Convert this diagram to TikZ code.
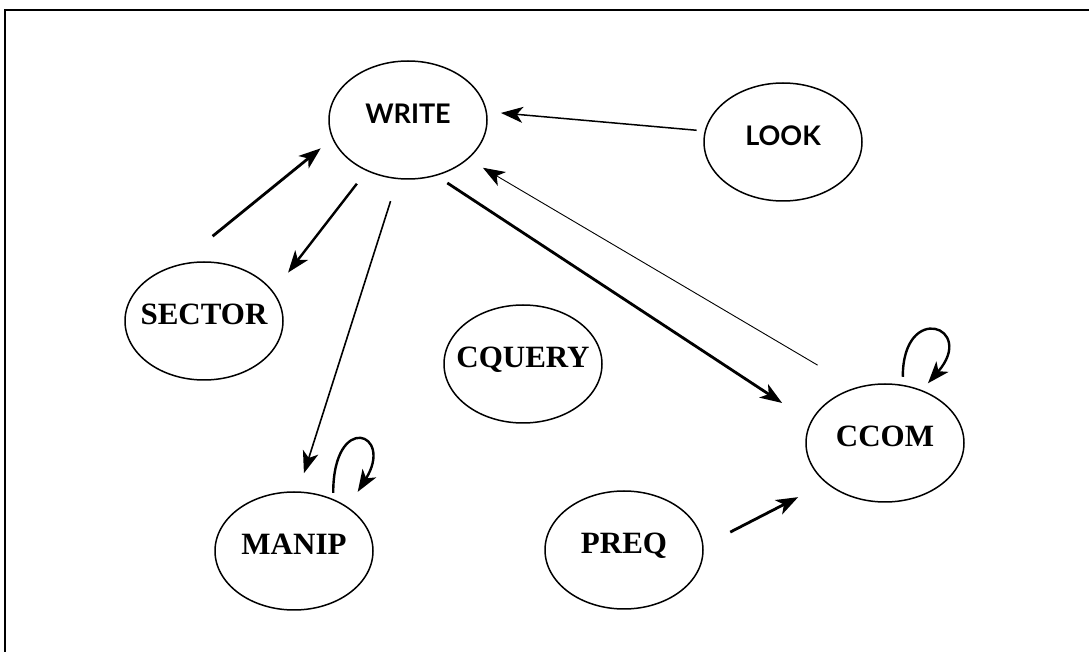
\documentclass[tikz,border=0pt]{standalone}
\usepackage{fontspec}
\setmainfont{Liberation Serif}
\newfontfamily\statesans{Lato}
\usetikzlibrary{arrows.meta}
\usetikzlibrary{shapes.geometric}

\tikzset{
  state/.style={draw, ellipse, line width=0.75pt, minimum width=79pt, minimum height=59pt,
    inner xsep=-7pt, inner ysep=0pt, text height=0.7em, text depth=0.35em,
    font=\fontsize{15.5}{18}\selectfont\bfseries},
  sansstate/.style={state, font=\statesans\fontsize{13.5}{16}\selectfont\bfseries},
  link/.style={-{Stealth[length=11pt,width=8pt,inset=3pt]}, line width=#1},
  link/.default=1pt
}

\begin{document}
\begin{tikzpicture}[x=0.5pt,y=-0.5pt]
      \useasboundingbox (0,0) rectangle (1089,652);
      \draw[line width=1.2pt] (5,652) -- (5,10) -- (1089,10);

      \node[sansstate] (write) at (408,120) {WRITE};
      \node[sansstate] (look) at (783,142) {LOOK};
      \node[state] (sector) at (204,321) {SECTOR};
      \node[state] (cquery) at (523,364) {CQUERY};
      \node[state] (manip) at (294,551) {MANIP};
      \node[state] (preq) at (624,550) {PREQ};
      \node[state] (ccom) at (885,443) {CCOM};

      \draw[link=0.75pt, shorten <=4pt, shorten >=7pt] (look.172) -- (write.6);
      \draw[link=0.45pt, shorten <=22pt, shorten >=8.5pt] (ccom.118) -- (write.327);
      \draw[link=1.4pt, shorten <=6.5pt, shorten >=17pt] (write.297) -- (ccom.164);
      \draw[link=1.4pt, shorten <=22.5pt, shorten >=7.5pt] (sector.115) -- (write.194);
      \draw[link=1.2pt, shorten <=8pt, shorten >=12pt] (write.231) -- (sector.23);
      \draw[link=0.8pt, shorten <=11.5pt, shorten >=9.5pt] (write.260) -- (manip.86);
      \draw[link=1.4pt, shorten <=15pt, shorten >=15.5pt] (preq.3) -- (ccom.214);

      \draw[link=1.2pt, shorten <=3pt, shorten >=9pt] (manip.53) .. controls +(90:44pt) and +(58:44pt) .. (manip.39);
      \draw[link=1.2pt, shorten <=4pt, shorten >=4.5pt] (ccom.73) .. controls +(90:42pt) and +(49:42pt) .. (ccom.55);
\end{tikzpicture}
\end{document}
